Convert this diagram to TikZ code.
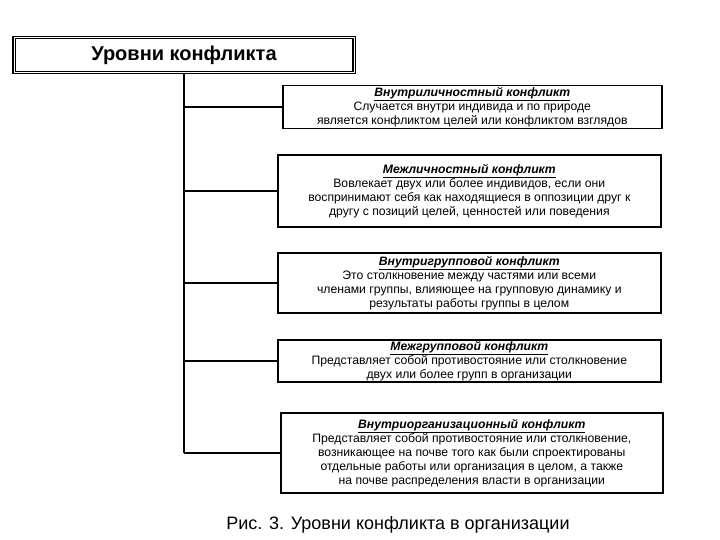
\documentclass[tikz,border=0pt]{standalone}
\usepackage{fontspec}
\setmainfont{Liberation Sans}
\usepackage{tikz}
\usetikzlibrary{positioning}

\tikzset{
  levelbox/.style={draw, line width=1.6pt, align=center, inner xsep=1pt, inner ysep=0pt,
    font=\fontsize{12.2}{14}\selectfont, anchor=west},
  titlebox/.style={draw, double, line width=1.4pt, double distance=1pt,
    minimum width=340, minimum height=35, font=\fontsize{20}{22}\selectfont\bfseries},
  branch/.style={line width=1.8pt}
}
\newcommand{\lvlhead}[1]{\underline{\textbf{\textit{#1}}}}

\begin{document}
\begin{tikzpicture}[x=1pt, y=-1pt]
			\useasboundingbox (0, 0) rectangle (720, 540);
			% Paths, nodes and wires:
			\node[titlebox](lvl) at (184, 55){Уровни конфликта};
			\node[levelbox, minimum width=379, minimum height=43](intra) at (282, 107){\lvlhead{Внутриличностный конфликт}\\Случается внутри индивида и по природе\\является конфликтом целей или конфликтом взглядов};
			\node[levelbox, minimum width=383, minimum height=72](inter) at (277, 191){\lvlhead{Межличностный конфликт}\\Вовлекает двух или более индивидов, если они\\воспринимают себя как находящиеся в оппозиции друг к\\другу с позиций целей, ценностей или поведения};
			\node[levelbox, minimum width=383, minimum height=60](ingrp) at (277, 283){\lvlhead{Внутригрупповой конфликт}\\Это столкновение между частями или всеми\\членами группы, влияющее на групповую динамику и\\результаты работы группы в целом};
			\node[levelbox, minimum width=383, minimum height=42](intgrp) at (277, 361){\lvlhead{Межгрупповой конфликт}\\Представляет собой противостояние или столкновение\\двух или более групп в организации};
			\node[levelbox, minimum width=382, minimum height=80](org) at (280, 453){\lvlhead{Внутриорганизационный конфликт}\\Представляет собой противостояние или столкновение,\\возникающее на почве того как были спроектированы\\отдельные работы или организация в целом, а также\\на почве распределения власти в организации};
			\draw[branch] (lvl.south) -- (lvl.south |- org.west);
			\draw[branch] (lvl.south |- intra.west) -- (intra.west);
			\draw[branch] (lvl.south |- inter.west) -- (inter.west);
			\draw[branch] (lvl.south |- ingrp.west) -- (ingrp.west);
			\draw[branch] (lvl.south |- intgrp.west) -- (intgrp.west);
			\draw[branch] (lvl.south |- org.west) -- (org.west);
			\node[font=\fontsize{18}{20}\selectfont](cap) at (398, 525){Рис. 3. Уровни конфликта в организации};
		\end{tikzpicture}
\end{document}
